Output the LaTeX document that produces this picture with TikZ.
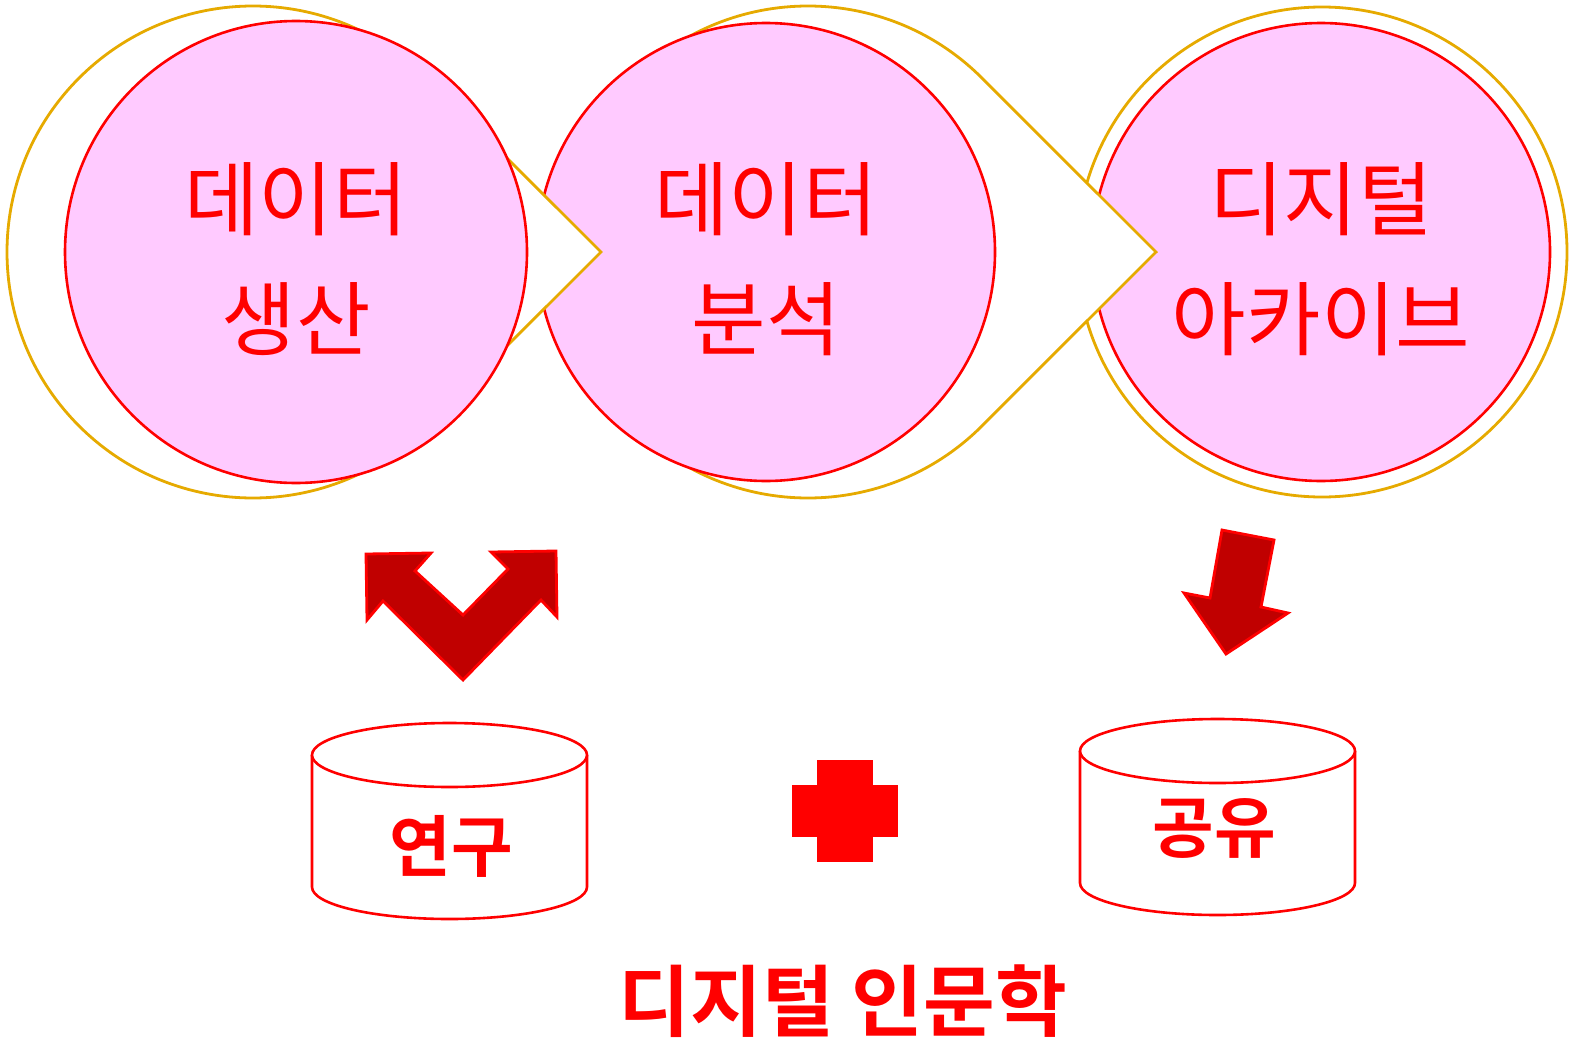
\documentclass[tikz,border=0pt]{standalone}
\usepackage{fontspec}
\usepackage{tikz}
\usetikzlibrary{positioning}
\newfontfamily\kr[BoldFont={Noto Sans CJK KR Bold}]{Noto Sans CJK KR}
\definecolor{ringyellow}{RGB}{230,170,0}
\definecolor{bubblepink}{RGB}{255,202,255}
\definecolor{arrowred}{RGB}{192,0,0}
\tikzstyle{ring} = [draw=ringyellow, line width=2.8pt, fill=white]
\tikzstyle{bubble} = [circle, draw=red, line width=2.6pt, fill=bubblepink, inner sep=0pt]
\tikzstyle{word} = [text=red, align=center, inner sep=0pt, font=\kr\fontsize{81}{120}\selectfont]
\tikzstyle{fat} = [draw=red, line width=2.8pt, fill=arrowred, line join=miter]
\tikzstyle{drum} = [draw=red, line width=2.6pt, fill=white]
\tikzstyle{tag} = [text=red, inner sep=0pt, font=\kr\bfseries\fontsize{67}{70}\selectfont]

\begin{document}
\begin{tikzpicture}[x=1pt,y=1pt]
\useasboundingbox (0,0) rectangle (1573,-1041);
% each ring goes under its own bubble
\draw[ring] (1322,-252) circle (245pt);
\node (p3) [bubble, minimum size=458pt] at (1321,-252) {};
\node (n3) [word] at (1321,-259) {디지털\\아카이브};
\draw[ring] (808,-252) ++(45:246pt) arc (45:315:246pt) -- (1156,-252) -- cycle;
\node (p2) [bubble, minimum size=458pt] at (766,-252) {};
\node (n2) [word] at (766,-259) {데이터\\분석};
\draw[ring] (253,-252) ++(45:246pt) arc (45:315:246pt) -- (601,-252) -- cycle;
\node (p1) [bubble, minimum size=462pt] at (296,-252) {};
\node (n1) [word] at (296,-259) {데이터\\생산};
\draw[fat] (366,-554) -- (431,-553) -- (415,-571) -- (463,-615) -- (508,-569) -- (491,-552) -- (556,-551) -- (557,-617) -- (541,-600) -- (463,-680) -- (383,-601) -- (367,-620) -- cycle;
\draw[fat] (1222,-530) -- (1274,-540) -- (1261,-607) -- (1288,-613) -- (1226,-654) -- (1184,-593) -- (1210,-598) -- cycle;
\draw[drum] (312,-755) -- (312,-887) arc (180:360:137.5pt and 32pt) -- (587,-755);
\draw[drum] (449.5,-755) ellipse (137.5pt and 32pt);
\draw[drum] (1080,-751) -- (1080,-883) arc (180:360:137.5pt and 32pt) -- (1355,-751);
\draw[drum] (1217.5,-751) ellipse (137.5pt and 32pt);
\node (r1) [tag] at (451,-846) {연구};
\node (r2) [tag] at (1214,-828) {공유};
\fill[red] (817,-760) rectangle (873,-862);
\fill[red] (792,-785) rectangle (898,-837);
\node (t) [tag, font=\kr\bfseries\fontsize{78}{80}\selectfont] at (843,-1001) {디지털 인문학};
\end{tikzpicture}
\end{document}
